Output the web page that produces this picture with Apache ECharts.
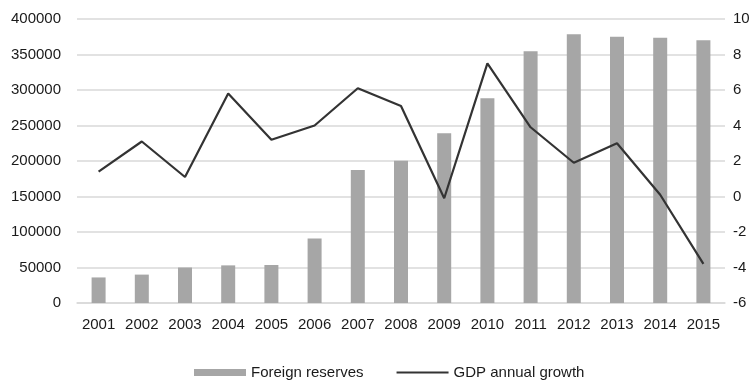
<!DOCTYPE html>
<html>
<head>
<meta charset="utf-8">
<script src="https://cdn.jsdelivr.net/npm/echarts@6/dist/echarts.min.js"></script>
<style>html,body{margin:0;padding:0;background:#fff;}#c{width:756px;height:380px;}</style>
</head>
<body>
<div id="c"></div>
<script>
var years = ['2001','2002','2003','2004','2005','2006','2007','2008','2009','2010','2011','2012','2013','2014','2015'];
var reserves = [36000, 40000, 50000, 53000, 53500, 91000, 187500, 200500, 239000, 288500, 354500, 378500, 375000, 373500, 370000];
var gdpGrowth = [1.4, 3.1, 1.1, 5.8, 3.2, 4.0, 6.1, 5.1, -0.1, 7.5, 3.9, 1.9, 3.0, 0.1, -3.8];
var leftTicks = {min: 0, max: 400000, interval: 50000};
var rightTicks = {min: -6, max: 10, interval: 2};

var font = 'Liberation Sans, Arial, sans-serif';
var chart = echarts.init(document.getElementById('c'), null, {renderer: 'canvas'});
chart.setOption({
  animation: false,
  backgroundColor: '#ffffff',
  grid: {left: 77, right: 31, top: 19, bottom: 77, containLabel: false},
  legend: {
    left: 189, top: 360,
    itemWidth: 52, itemHeight: 7, itemGap: 33,
    symbolKeepAspect: true,
    textStyle: {fontFamily: font, fontSize: 15, color: '#1a1a1a', lineHeight: 15},
    data: [
      {name: 'Foreign reserves', icon: 'rect'},
      {name: 'GDP annual growth', icon: 'path://M0,0H52V2H0Z'}
    ]
  },
  xAxis: {
    type: 'category',
    data: years,
    axisLine: {show: true, lineStyle: {color: '#d9d9d9', width: 1.5}},
    axisTick: {show: false},
    axisLabel: {fontFamily: font, fontSize: 15, color: '#1a1a1a', margin: 14, interval: 0}
  },
  yAxis: [
    {
      type: 'value', min: leftTicks.min, max: leftTicks.max, interval: leftTicks.interval,
      axisLine: {show: false}, axisTick: {show: false},
      splitLine: {lineStyle: {color: '#d9d9d9', width: 1.5}},
      axisLabel: {fontFamily: font, fontSize: 15, color: '#1a1a1a', margin: 16,
        formatter: function (v) { return String(v); }}
    },
    {
      type: 'value', min: rightTicks.min, max: rightTicks.max, interval: rightTicks.interval,
      axisLine: {show: false}, axisTick: {show: false},
      splitLine: {show: false},
      axisLabel: {fontFamily: font, fontSize: 15, color: '#1a1a1a', margin: 8,
        formatter: function (v) { return String(v); }}
    }
  ],
  series: [
    {
      name: 'Foreign reserves', type: 'bar', yAxisIndex: 0,
      data: reserves, barWidth: 14,
      itemStyle: {color: '#a6a6a6'}
    },
    {
      name: 'GDP annual growth', type: 'line', yAxisIndex: 1,
      data: gdpGrowth, symbol: 'none', showSymbol: false,
      lineStyle: {color: '#333333', width: 2.2},
      itemStyle: {color: '#333333'}
    }
  ]
});
</script>
</body>
</html>
